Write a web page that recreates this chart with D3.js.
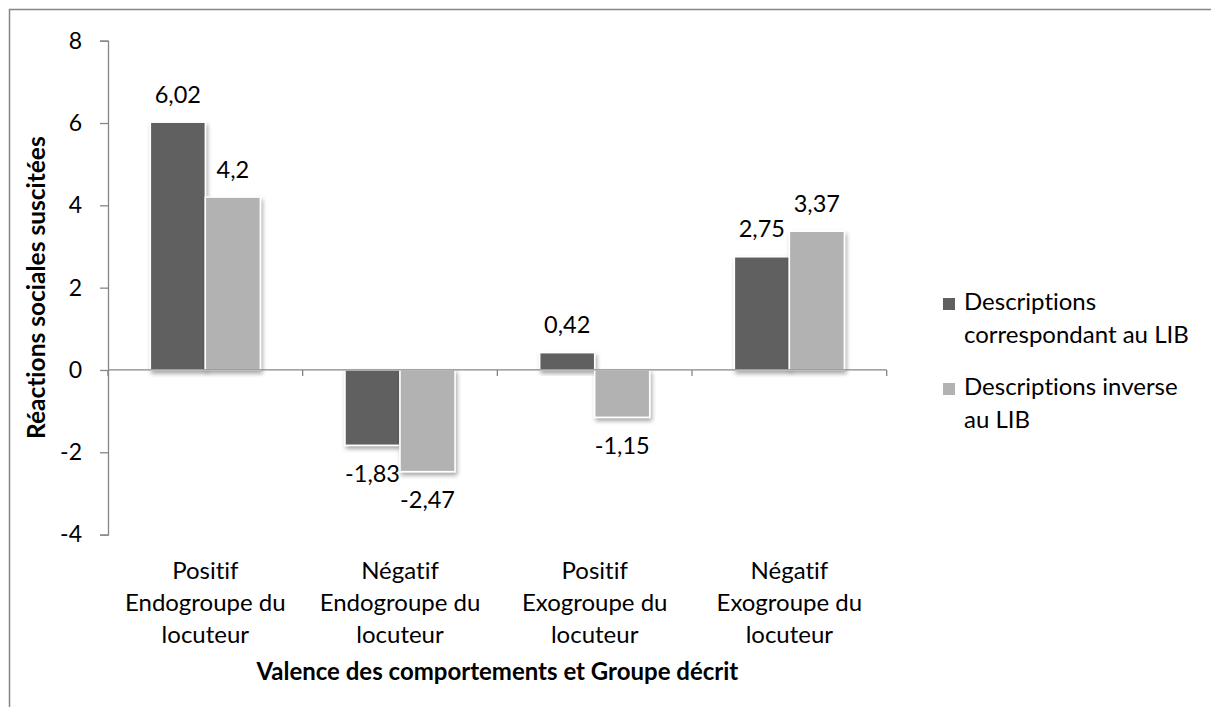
<!DOCTYPE html>
<html><head><meta charset="utf-8">
<script src="https://cdn.jsdelivr.net/npm/d3@7/dist/d3.min.js"></script>
<style>
body{margin:0;background:#fff;}
svg{display:block;}
text{font-family:Lato,"Open Sans",sans-serif;fill:#000;font-variant-ligatures:none;font-feature-settings:"liga" 0,"clig" 0;}
</style>
</head><body>
<svg id="chart" width="1211" height="707"></svg>
<script>
// ---- data ----
const categories = ["Positif Endogroupe du locuteur","Négatif Endogroupe du locuteur","Positif Exogroupe du locuteur","Négatif Exogroupe du locuteur"];
const categoryLines = [["Positif","Endogroupe du","locuteur"],["Négatif","Endogroupe du","locuteur"],["Positif","Exogroupe du","locuteur"],["Négatif","Exogroupe du","locuteur"]];
const seriesNames = ["Descriptions correspondant au LIB","Descriptions inverse au LIB"];
const legendLines = [["Descriptions","correspondant au LIB"],["Descriptions inverse","au LIB"]];
const seriesCorrespondant = [6.02,-1.83,0.42,2.75];
const seriesInverse = [4.2,-2.47,-1.15,3.37];
const yTicks = [-4,-2,0,2,4,6,8];
const yTitle = "Réactions sociales suscitées";
const xTitle = "Valence des comportements et Groupe décrit";
const colors = ["#606060","#b2b2b2"];

const series = [seriesCorrespondant, seriesInverse];
const svg = d3.select("#chart");
const axisColor = "#868686";

// frame
svg.append("rect").attr("x",9.5).attr("y",9.5).attr("width",1220).attr("height",720)
  .attr("fill","none").attr("stroke",axisColor).attr("stroke-width",1.5);

// shadow filter
const defs = svg.append("defs");
const f = defs.append("filter").attr("id","sh").attr("x","-20%").attr("y","-20%").attr("width","150%").attr("height","150%");
f.append("feDropShadow").attr("dx",1.5).attr("dy",3).attr("stdDeviation",2.2).attr("flood-color","#000").attr("flood-opacity",0.35);

const y = d3.scaleLinear().domain([-4,8]).range([534.6,40.7]);
const x = d3.scaleBand().domain(categories).range([108,886.7]).padding(0);
const bw = x.bandwidth();
const x1 = d3.scaleBand().domain(d3.range(series.length)).range([bw/2-55, bw/2+55]).padding(0);

// y axis
const yAxis = svg.append("g").attr("transform","translate(108,0)")
  .call(d3.axisLeft(y).tickValues(yTicks).tickSize(8).tickSizeOuter(8).tickPadding(18).tickFormat(d=>String(d)));
yAxis.select(".domain").attr("stroke",axisColor).attr("stroke-width",1.3);
yAxis.selectAll(".tick line").attr("stroke",axisColor).attr("stroke-width",1.3);
yAxis.selectAll(".tick text").attr("font-family","Lato").attr("font-size",23).attr("fill","#000");

// bars
const g = svg.append("g");
series.forEach((vals,si)=>{
  g.selectAll(".bar"+si).data(vals).enter().append("rect")
    .attr("x",(d,i)=>x(categories[i])+x1(si))
    .attr("width",x1.bandwidth())
    .attr("y",d=>y(Math.max(0,d)))
    .attr("height",d=>Math.abs(y(d)-y(0)))
    .attr("fill",colors[si])
    .attr("stroke","#fff").attr("stroke-width",1.5)
    .attr("filter","url(#sh)");
});

// x axis line and ticks
const x0 = y(0);
svg.append("line").attr("x1",108).attr("x2",886.7).attr("y1",x0).attr("y2",x0)
  .attr("stroke",axisColor).attr("stroke-width",1.3);
const bounds = categories.map(c=>x(c)).concat([x.range()[1]]);
svg.selectAll(".xt").data(bounds).enter().append("line")
  .attr("x1",d=>d).attr("x2",d=>d).attr("y1",x0).attr("y2",x0+6)
  .attr("stroke",axisColor).attr("stroke-width",1.3);

// data labels
const fmt = v=>String(v).replace(".",",");
series.forEach((vals,si)=>{
  svg.selectAll(".lab"+si).data(vals).enter().append("text")
    .attr("x",(d,i)=>x(categories[i])+x1(si)+x1.bandwidth()/2)
    .attr("y",d=> d>=0 ? y(d)-19.5 : y(d)+36.5)
    .attr("text-anchor","middle").attr("font-size",23.5)
    .text(fmt);
});

// category labels
categoryLines.forEach((lines,i)=>{
  const t = svg.append("text").attr("text-anchor","middle").attr("font-size",24);
  lines.forEach((l,k)=>{
    t.append("tspan").attr("x",x(categories[i])+bw/2).attr("y",578.5+k*32).text(l);
  });
});

// axis titles
svg.append("text").attr("x",(108+886.7)/2).attr("y",680).attr("text-anchor","middle")
  .attr("font-size",24).attr("font-weight","bold").text(xTitle);
svg.append("text").attr("transform","translate(45,"+((40.7+534.6)/2)+") rotate(-90)")
  .attr("text-anchor","middle").attr("font-size",24.5).attr("font-weight","bold").text(yTitle);

// legend
const legendTop = [310,395];
legendLines.forEach((lines,i)=>{
  svg.append("rect").attr("x",943).attr("y",legendTop[i]-12).attr("width",12).attr("height",12)
    .attr("fill",colors[i]);
  const t = svg.append("text").attr("font-size",24);
  lines.forEach((l,k)=>{
    t.append("tspan").attr("x",964).attr("y",legendTop[i]+k*32.5).text(l);
  });
});
</script>
</body></html>
